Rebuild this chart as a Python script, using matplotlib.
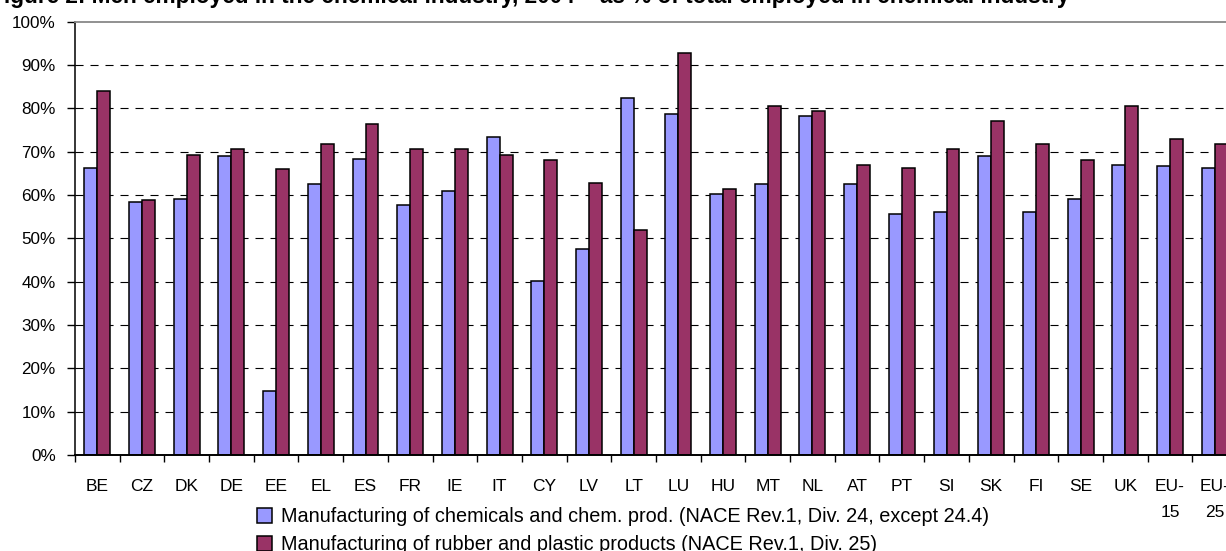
import matplotlib
matplotlib.use("Agg")
import matplotlib.pyplot as plt
from matplotlib.patches import Patch
import numpy as np

plt.rcParams['font.family'] = ['Liberation Sans', 'DejaVu Sans']
plt.rcParams['lines.scale_dashes'] = False

categories = ["BE", "CZ", "DK", "DE", "EE", "EL", "ES", "FR", "IE", "IT", "CY", "LV", "LT",
              "LU", "HU", "MT", "NL", "AT", "PT", "SI", "SK", "FI", "SE", "UK", "EU-\n15", "EU-\n25"]
chemicals = [66.3, 58.4, 59.1, 68.9, 14.7, 62.5, 68.2, 57.7, 61.0, 73.3, 40.2, 47.5, 82.3,
             78.6, 60.2, 62.4, 78.2, 62.4, 55.5, 56.1, 68.9, 56.1, 59.1, 67.0, 66.6, 66.3]
rubber = [83.9, 58.8, 69.3, 70.7, 65.9, 71.8, 76.3, 70.7, 70.7, 69.2, 68.1, 62.8, 52.0,
          92.8, 61.4, 80.4, 79.3, 67.0, 66.3, 70.7, 77.1, 71.8, 68.1, 80.4, 73.0, 71.8]
yticks = [0, 10, 20, 30, 40, 50, 60, 70, 80, 90, 100]
series_names = ["Manufacturing of chemicals and chem. prod. (NACE Rev.1, Div. 24, except 24.4)",
                "Manufacturing of rubber and plastic products (NACE Rev.1, Div. 25)"]
title = "Figure 2: Men employed in the chemical industry, 2004 \u2013 as % of total employed in chemical industry"

W, H = 1226, 551
fig = plt.figure(figsize=(W / 100, H / 100), dpi=100)
x0, x1 = 75, 1237
y0, y1 = 455, 21.5
ax = fig.add_axes([x0 / W, 1 - y0 / H, (x1 - x0) / W, (y0 - y1) / H])

blue = "#9999FF"
red = "#993366"
x = np.arange(len(categories))
bw = 0.29
ax.bar(x - bw / 2, chemicals, width=bw, color=blue, edgecolor="black", linewidth=1.1, zorder=3)
ax.bar(x + bw / 2, rubber, width=bw, color=red, edgecolor="black", linewidth=1.1, zorder=3)

ax.set_xlim(-0.5, len(categories) - 0.5)
ax.set_ylim(0, 100)
ax.set_yticks(yticks)
ax.set_yticklabels([f"{v}%" for v in yticks], fontsize=12.3)
for v in yticks[1:-1]:
    ax.axhline(v, color="black", linewidth=0.8, linestyle=(0, (5.8, 5.0)), zorder=1)

ax.set_xticks(x)
ax.set_xticklabels(categories, fontsize=12.5, linespacing=1.95)
ax.set_xticks(np.arange(-0.5, len(categories), 1.0), minor=True)
ax.tick_params(axis="x", which="major", length=0, pad=17)
ax.tick_params(axis="x", which="minor", length=5, width=1.0, direction="out", color="black")
ax.tick_params(axis="y", length=5.8, width=1.0, direction="out", pad=8)

ax.spines["left"].set_linewidth(1.1)
ax.spines["bottom"].set_linewidth(1.4)
ax.spines["top"].set_color("#888888")
ax.spines["top"].set_linewidth(1.3)
ax.spines["right"].set_visible(False)
ax.spines["bottom"].set_zorder(4)

handles = [Patch(facecolor=blue, edgecolor="black", linewidth=1.1),
           Patch(facecolor=red, edgecolor="black", linewidth=1.1)]
fs_leg = 14.3
fig.legend(handles, series_names, loc="upper left",
           bbox_to_anchor=(257 / W, 1 - 507.5 / H), fontsize=fs_leg, frameon=False,
           borderpad=0, borderaxespad=0, handlelength=0.78, handleheight=0.78,
           handletextpad=0.45, labelspacing=0.45)

fig.text(1070 / W, 1 - 3.5 / H, title, ha="right", va="baseline", fontsize=16.3,
         fontweight="bold")

fig.savefig("out.png", dpi=100)
